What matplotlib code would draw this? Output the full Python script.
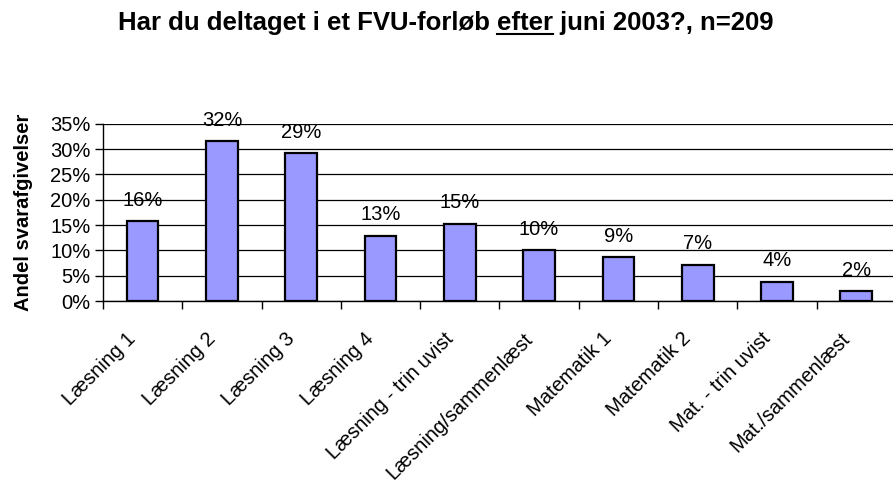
import matplotlib.pyplot as plt
import numpy as np

# data
categories = ['Læsning 1', 'Læsning 2', 'Læsning 3', 'Læsning 4', 'Læsning - trin uvist',
              'Læsning/sammenlæst', 'Matematik 1', 'Matematik 2', 'Mat. - trin uvist',
              'Mat./sammenlæst']
shares = [15.8, 31.6, 29.2, 12.9, 15.3, 10.0, 8.6, 7.2, 3.8, 1.9]
labels = ['16%', '32%', '29%', '13%', '15%', '10%', '9%', '7%', '4%', '2%']
yticks = [0, 5, 10, 15, 20, 25, 30, 35]

plt.rcParams['font.family'] = ['Liberation Sans', 'DejaVu Sans']
fs = 14.5

fig = plt.figure(figsize=(8.93, 4.83), dpi=100)
ax = fig.add_axes([0.1153, 0.3768, 0.888, 0.367])

x = np.arange(len(categories))
ax.bar(x, shares, width=0.4, color='#9999FF', edgecolor='black', linewidth=1.6, zorder=3)

for xi, v, lab in zip(x, shares, labels):
    ax.annotate(lab, (xi, v), xytext=(0, 15), textcoords='offset points',
                ha='center', va='center', fontsize=fs)

ax.set_xlim(-0.5, len(categories) - 0.5)
ax.set_ylim(0, 35)
ax.set_yticks(yticks)
ax.set_yticklabels([f'{t}%' for t in yticks], fontsize=fs)
ax.yaxis.grid(True, color='black', linewidth=0.9, zorder=0)
ax.set_axisbelow(True)

# ticks between categories, labels at centres
ax.set_xticks(np.arange(len(categories) + 1) - 0.5)
ax.set_xticklabels([])
ax.set_xticks(x - 0.12, minor=True)
ax.set_xticklabels(categories, minor=True, rotation=45, ha='right', va='center',
                   rotation_mode='anchor', fontsize=fs)
ax.tick_params(axis='x', which='minor', length=0, pad=25)
ax.tick_params(axis='x', which='major', length=6, width=1, direction='out')
ax.tick_params(axis='y', length=6, width=1, direction='out', pad=3)

for s in ['top', 'right']:
    ax.spines[s].set_visible(False)
ax.spines['left'].set_linewidth(1)
ax.spines['bottom'].set_linewidth(1)

ax.set_ylabel('Andel svarafgivelser', fontsize=fs, fontweight='bold', labelpad=12)

# title with underlined word
tfs = 18.5
parts = ['Har du deltaget i et FVU-forløb ', 'efter', ' juni 2003?, n=209']
fig.canvas.draw()
r = fig.canvas.get_renderer()
tmp = [fig.text(0, 0, p, fontsize=tfs, fontweight='bold') for p in parts]
widths = [t.get_window_extent(r).width for t in tmp]
for t in tmp:
    t.remove()
full = fig.text(0, 0, ''.join(parts), fontsize=tfs, fontweight='bold')
total = full.get_window_extent(r).width
full.remove()
fw = fig.get_figwidth() * fig.dpi
x0 = 446 - total / 2
ty = 1 - 30 / 483
cur = x0
for p, w in zip(parts, widths):
    fig.text(cur / fw, ty, p, fontsize=tfs, fontweight='bold', va='baseline')
    if p == 'efter':
        fig.add_artist(plt.Line2D([cur / fw, (cur + w) / fw], [ty - 0.009, ty - 0.009],
                                  color='black', linewidth=1.5, transform=fig.transFigure))
    cur += w

fig.savefig('out.png', dpi=100)
